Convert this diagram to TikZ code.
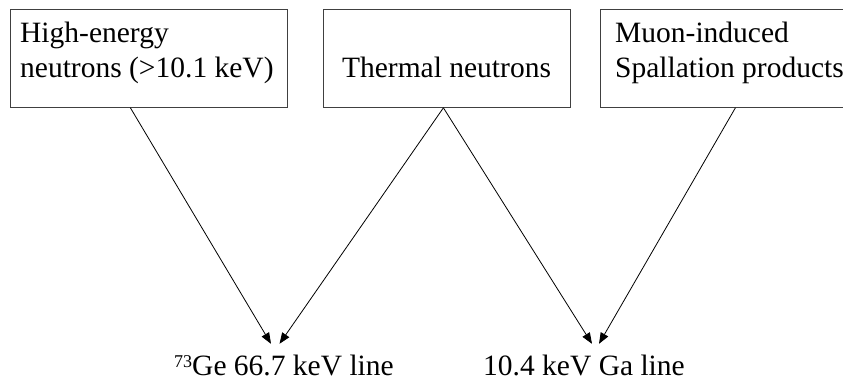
\documentclass[tikz,border=0pt]{standalone}
\usepackage{fontspec}
\setmainfont{Liberation Serif}
\usetikzlibrary{arrows.meta}
\begin{document}
\begin{tikzpicture}[x=1pt,y=-1pt,
  srcbox/.style={draw=black!75,line width=0.8pt,rectangle,inner sep=0pt,minimum height=98pt,anchor=north west},
  boxtext/.style={inner sep=0pt,font=\fontsize{29.5}{35}\selectfont,align=left},
  linelabel/.style={inner sep=0pt,font=\fontsize{29.5}{35}\selectfont,text height=20pt,text depth=6pt,anchor=base},
  arr/.style={line width=0.8pt,-{Triangle[length=11pt,width=8.5pt]}}]
\useasboundingbox (0,0) rectangle (843,384);
\clip (0,0) rectangle (843,384);
% boxes
\node[srcbox,minimum width=277pt] (b1) at (10,9) {};
\node[srcbox,minimum width=247pt] (b2) at (323,9) {};
\node[srcbox,minimum width=270pt] (b3) at (600,9) {};
% box texts
\node[boxtext,anchor=base west] (t1a) at (20,42.5) {High-energy};
\node[boxtext,anchor=base west] (t1b) at (20,77.5) {neutrons (>10.1 keV)};
\node[boxtext,anchor=base] (t2) at (446.5,77) {Thermal neutrons};
\node[boxtext,anchor=base west] (t3a) at (615,42.5) {Muon-induced};
\node[boxtext,anchor=base west] (t3b) at (615,77.5) {Spallation products};
% line labels
\node[linelabel] (l1) at (284,375) {\raisebox{8pt}{\fontsize{18}{18}\selectfont 73}Ge 66.7 keV line};
\node[linelabel] (l2) at (584,375) {10.4 keV Ga line};
% arrows
\draw[arr] ([xshift=-18.5pt]b1.south) -- ([xshift=-13pt,yshift=11pt]l1.north);
\draw[arr] ([xshift=-3.5pt]b2.south) -- ([xshift=-4.5pt,yshift=11pt]l1.north);
\draw[arr] ([xshift=-3.5pt]b2.south) -- ([xshift=8pt,yshift=11pt]l2.north);
\draw[arr] (b3.south) -- ([xshift=15pt,yshift=11pt]l2.north);
\end{tikzpicture}
\end{document}
